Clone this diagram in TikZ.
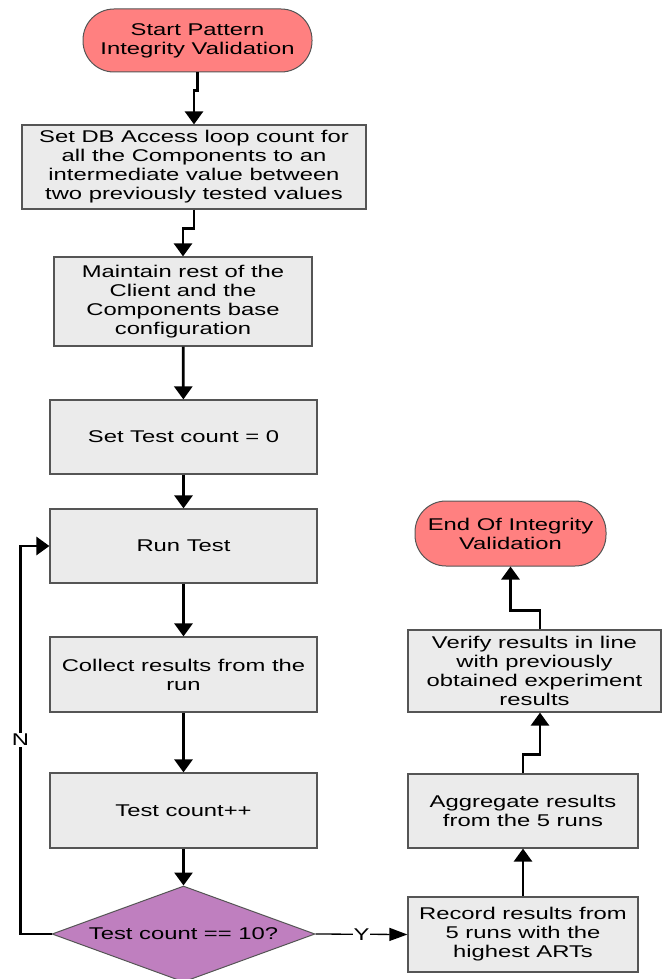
\documentclass[tikz,border=0pt]{standalone}
\usepackage{fontspec}
\setmainfont[FakeStretch=1.4]{Liberation Sans}
\usetikzlibrary{shapes.geometric,arrows.meta}

\definecolor{boxfill}{HTML}{EBEBEB}
\definecolor{boxline}{HTML}{555555}
\definecolor{termfill}{HTML}{FF8080}
\definecolor{decfill}{HTML}{BF7FBF}

\tikzset{
  txt/.style={font=\fontsize{17}{19}\selectfont, align=center, inner sep=0pt},
  procbox/.style={txt, draw=boxline, line width=1.2pt, fill=boxfill},
  terminal/.style={txt, draw=boxline, line width=1pt, fill=termfill, rounded corners=31pt},
  decision/.style={txt, diamond, draw=boxline, line width=1pt, fill=decfill,
    aspect=2.74, minimum width=263pt, minimum height=96pt},
  flow/.style={line width=2.8pt, -{Triangle[width=18pt,length=13pt]}},
  thinflow/.style={line width=1.3pt, -{Triangle[width=13pt,length=18pt]}},
  lbl/.style={font=\fontsize{17}{19}\selectfont, fill=white, inner sep=1pt}
}

\begin{document}
\begin{tikzpicture}[x=1pt,y=-1pt]
\useasboundingbox (0,0) rectangle (662,979);

% main column
\node[terminal, minimum width=229pt, minimum height=63pt] (start) at (197.5,40.5)
  {Start Pattern\\Integrity Validation};
\node[procbox, minimum width=344pt, minimum height=84pt] (setdb) at (194,167)
  {Set DB Access loop count for\\all the Components to an\\intermediate value between\\two previously tested values};
\node[procbox, minimum width=258pt, minimum height=89pt] (keep) at (183,301.5)
  {Maintain rest of the\\Client and the\\Components base\\configuration};
\node[procbox, minimum width=267pt, minimum height=74pt] (zero) at (183.5,437)
  {Set Test count = 0};
\node[procbox, minimum width=267pt, minimum height=74pt] (run) at (183.5,546)
  {Run Test};
\node[procbox, minimum width=267pt, minimum height=75pt] (collect) at (183.5,674.5)
  {Collect results from the\\run};
\node[procbox, minimum width=267pt, minimum height=75pt] (incr) at (183.5,810.5)
  {Test count++};
\node[decision] (check) at (183.5,934) {Test count == 10?};

% result column
\node[procbox, minimum width=230pt, minimum height=75pt] (record) at (523,934.5)
  {Record results from\\5 runs with the\\highest ARTs};
\node[procbox, minimum width=230pt, minimum height=74pt] (aggr) at (523,811)
  {Aggregate results\\from the 5 runs};
\node[procbox, minimum width=253pt, minimum height=82pt] (verify) at (534.5,671)
  {Verify results in line\\with previously\\obtained experiment\\results};
\node[terminal, minimum width=191pt, minimum height=65pt] (finish) at (510.5,533.5)
  {End Of Integrity\\Validation};

% connectors
\draw[flow] (start.south) -- ++(0,18) -| (setdb.north);
\draw[flow] (setdb.south) -- ++(0,19) -| (keep.north);
\draw[flow] (keep) -- (zero);
\draw[flow] (zero) -- (run);
\draw[flow] (run) -- (collect);
\draw[flow] (collect) -- (incr);
\draw[flow] (incr) -- (check);
\draw[flow] (check.west) -- ++(-31,0) |- node[lbl, pos=0.25] {N} (run.west);
\draw[thinflow] (check.east) -- node[lbl] {Y} (record.west);
\draw[flow] (record) -- (aggr);
\draw[flow] (aggr.north) -- ++(0,-19) -| ([xshift=5.5pt]verify.south);
\draw[flow] ([xshift=5.5pt]verify.north) -- ++(0,-19) -| (finish.south);
\end{tikzpicture}
\end{document}
